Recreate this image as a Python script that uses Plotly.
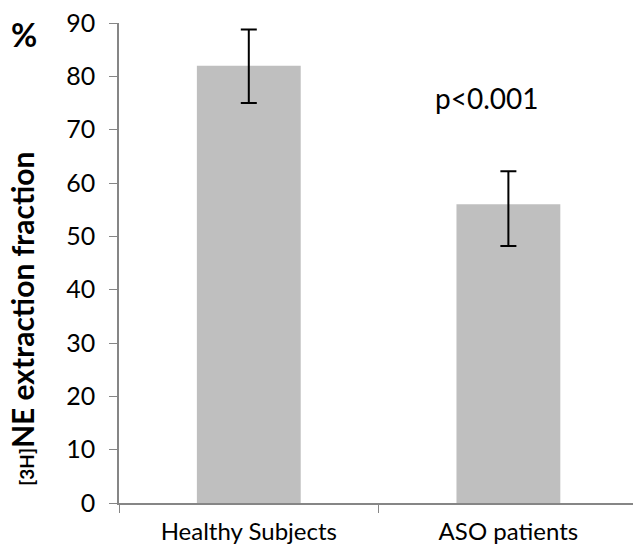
import plotly.graph_objects as go

categories = ["Healthy Subjects", "ASO patients"]
values = [82.0, 56.0]
err_plus = [6.8, 6.2]
err_minus = [7.0, 7.8]
y_ticks = [0, 10, 20, 30, 40, 50, 60, 70, 80, 90]
p_label = "p<0.001"
p_y = 76

FONT = "Lato"
AXIS_COLOR = "#868686"

fig = go.Figure()
fig.add_trace(go.Bar(
    x=categories, y=values,
    marker=dict(color="#BFBFBF", line=dict(width=0)),
    width=0.4,
    error_y=dict(type="data", symmetric=False, array=err_plus, arrayminus=err_minus,
                 color="black", thickness=2, width=8),
))

fig.add_annotation(xref="paper", y=p_y, x=0.716, xanchor="center", yanchor="middle",
                   text=p_label, showarrow=False,
                   font=dict(family=FONT, size=28, color="black"))
fig.add_annotation(xref="paper", yref="paper", x=-0.2276, y=0.384,
                   xanchor="left", yanchor="middle",
                   text="<b><span style='font-size:19px'>[3H]</span>NE extraction fraction</b>",
                   textangle=-90, showarrow=False,
                   font=dict(family=FONT, size=30, color="black"))
fig.add_annotation(xref="paper", yref="paper", x=-0.214, y=1.0208,
                   xanchor="left", yanchor="top", text="<b>%</b>",
                   showarrow=False, font=dict(family=FONT, size=32, color="black"))

fig.update_layout(
    width=633, height=549,
    margin=dict(l=119, r=0, t=23, b=46),
    plot_bgcolor="white", paper_bgcolor="white",
    showlegend=False,
    xaxis=dict(type="category", range=[-0.5, 1.48], showline=True, linecolor=AXIS_COLOR,
               linewidth=1.5, ticks="outside", tickson="boundaries", ticklen=8,
               tickcolor=AXIS_COLOR, tickfont=dict(family=FONT, size=24, color="black"),
               ticklabelstandoff=6,
               showgrid=False, zeroline=False),
    yaxis=dict(range=[0, 90], tickvals=y_ticks, showline=True, linecolor=AXIS_COLOR,
               linewidth=1.5, ticks="outside", ticklen=8, tickcolor=AXIS_COLOR,
               tickfont=dict(family=FONT, size=25, color="black"),
               ticklabelstandoff=9,
               showgrid=False, zeroline=False),
)

fig.write_html("out.html")
